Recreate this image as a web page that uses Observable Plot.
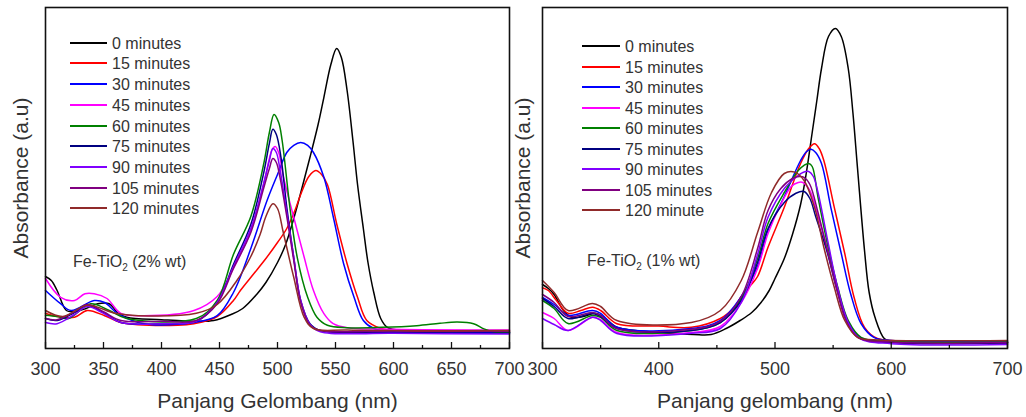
<!DOCTYPE html>
<html><head><meta charset="utf-8">
<script src="https://cdn.jsdelivr.net/npm/d3@7"></script>
<script src="https://cdn.jsdelivr.net/npm/@observablehq/plot@0.6"></script>
<style>
body{margin:0;background:#fff;font-family:"Liberation Sans",Arial,sans-serif;}
#wrap{position:relative;width:1026px;height:417px;overflow:hidden;background:#fff;}
.panel{position:absolute;top:0;}
.lg-line{position:absolute;height:2px;}
.lg-text{position:absolute;font-size:16px;line-height:16px;color:#333;white-space:nowrap;}
.note{position:absolute;font-size:16px;line-height:16px;color:#333;white-space:nowrap;}
.note sub{font-size:10px;vertical-align:-4px;line-height:0;}
</style></head><body>
<div id="wrap"></div>
<script>
// ---------- series labels & colours ----------
const timesLeft  = ["0 minutes","15 minutes","30 minutes","45 minutes","60 minutes","75 minutes","90 minutes","105 minutes","120 minutes"];
const timesRight = ["0 minutes","15 minutes","30 minutes","45 minutes","60 minutes","75 minutes","90 minutes","105 minutes","120 minute"];
const seriesColors = ["#000000","#ff0000","#0000ff","#ff00ff","#008000","#000080","#8000ff","#800080","#902a2a"];

// ---------- axis ticks ----------
const leftMajor = [300,350,400,450,500,550,600,650,700];
const leftMinor = [325,375,425,475,525,575,625,675];
const rightMajor = [300,400,500,600,700];
const rightMinor = [350,450,550,650];

// ---------- Fe-TiO2 (2% wt): [wavelength nm, absorbance a.u.] ----------
const L_0 = [[300,0.18],[305,0.17],[310,0.145],[318,0.095],[325,0.092],[335,0.10],[345,0.112],[355,0.112],[362,0.09],[370,0.078],[400,0.072],[430,0.068],[445,0.07],[460,0.085],[470,0.1],[482,0.135],[490,0.165],[500,0.215],[507,0.26],[514,0.325],[521,0.40],[528,0.478],[535,0.56],[540,0.628],[546,0.71],[551,0.75],[555,0.728],[560,0.645],[565,0.52],[569,0.41],[574,0.30],[578,0.215],[583,0.14],[589,0.075],[595,0.052],[610,0.045],[650,0.043],[700,0.04]];
const L_15 = [[300,0.088],[310,0.08],[325,0.078],[336,0.095],[351,0.082],[365,0.065],[414,0.058],[428,0.062],[448,0.08],[462,0.12],[468,0.145],[479,0.185],[490,0.225],[500,0.265],[508,0.30],[515,0.345],[520,0.385],[527,0.43],[533,0.445],[538,0.435],[543,0.41],[551,0.312],[560,0.212],[569,0.128],[577,0.07],[589,0.05],[600,0.045],[700,0.042]];
const L_30 = [[300,0.145],[313,0.112],[322,0.095],[342,0.12],[351,0.115],[362,0.088],[385,0.062],[428,0.065],[448,0.082],[462,0.14],[477,0.25],[491,0.37],[500,0.435],[508,0.49],[514,0.508],[520,0.515],[526,0.508],[531,0.49],[540,0.428],[548,0.33],[557,0.212],[566,0.128],[574,0.07],[583,0.05],[600,0.042],[700,0.04]];
const L_45 = [[300,0.175],[313,0.128],[325,0.12],[334,0.137],[342,0.137],[353,0.125],[365,0.088],[385,0.082],[428,0.095],[448,0.13],[462,0.2],[477,0.295],[488,0.41],[493,0.475],[495,0.495],[498,0.505],[501,0.49],[505,0.43],[514,0.328],[523,0.228],[531,0.145],[540,0.087],[548,0.062],[560,0.052],[600,0.048],[700,0.046]];
const L_60 = [[300,0.083],[310,0.08],[320,0.075],[339,0.112],[355,0.095],[370,0.075],[430,0.075],[448,0.12],[462,0.235],[477,0.33],[488,0.46],[493,0.54],[497,0.585],[501,0.565],[504,0.52],[511,0.345],[517,0.228],[526,0.128],[534,0.078],[543,0.058],[560,0.052],[590,0.053],[620,0.057],[640,0.063],[655,0.066],[669,0.062],[678,0.049],[687,0.041],[700,0.04]];
const L_75 = [[300,0.075],[310,0.07],[325,0.09],[336,0.108],[350,0.09],[365,0.065],[400,0.062],[430,0.068],[448,0.115],[462,0.21],[477,0.31],[488,0.438],[493,0.513],[496,0.548],[499,0.535],[503,0.478],[508,0.353],[514,0.228],[520,0.12],[528,0.062],[537,0.045],[600,0.04],[700,0.038]];
const L_90 = [[300,0.065],[310,0.062],[325,0.085],[336,0.105],[350,0.088],[365,0.065],[400,0.062],[430,0.068],[448,0.115],[462,0.205],[477,0.30],[488,0.412],[493,0.47],[496,0.5],[499,0.49],[502,0.45],[508,0.34],[514,0.228],[520,0.12],[528,0.06],[537,0.042],[600,0.038],[700,0.036]];
const L_105 = [[300,0.075],[310,0.072],[325,0.092],[336,0.11],[350,0.092],[365,0.07],[400,0.068],[430,0.07],[448,0.112],[462,0.2],[477,0.29],[488,0.40],[493,0.45],[496,0.475],[499,0.465],[502,0.43],[508,0.33],[514,0.22],[520,0.115],[528,0.058],[537,0.045],[600,0.044],[700,0.043]];
const L_120 = [[300,0.095],[315,0.08],[336,0.108],[360,0.088],[380,0.082],[430,0.088],[448,0.11],[465,0.17],[477,0.23],[485,0.285],[490,0.33],[496,0.362],[500,0.35],[505,0.29],[514,0.178],[523,0.078],[531,0.05],[560,0.046],[700,0.045]];

// ---------- Fe-TiO2 (1% wt) ----------
const R_0 = [[300,0.16],[305,0.15],[310,0.135],[318,0.095],[325,0.078],[335,0.08],[345,0.088],[352,0.08],[364,0.053],[380,0.045],[400,0.04],[430,0.035],[445,0.035],[458,0.05],[470,0.07],[480,0.09],[488,0.115],[495,0.145],[500,0.175],[508,0.225],[515,0.285],[522,0.36],[527,0.44],[532,0.54],[536,0.62],[540,0.70],[546,0.78],[552,0.80],[557,0.78],[563,0.70],[567,0.59],[571,0.45],[577,0.245],[581,0.14],[586,0.078],[594,0.025],[600,0.018],[700,0.015]];
const R_15 = [[300,0.152],[305,0.145],[312,0.12],[322,0.088],[333,0.095],[343,0.103],[350,0.095],[364,0.062],[400,0.056],[428,0.053],[453,0.075],[465,0.103],[471,0.13],[479,0.158],[485,0.18],[494,0.253],[508,0.353],[522,0.4625],[529,0.5],[534,0.512],[538,0.5],[542,0.47],[551,0.353],[560,0.2375],[568,0.128],[577,0.053],[588,0.025],[600,0.02],[700,0.018]];
const R_30 = [[300,0.128],[310,0.11],[322,0.083],[343,0.095],[350,0.088],[364,0.053],[428,0.05],[453,0.07],[471,0.13],[485,0.205],[494,0.295],[508,0.38],[522,0.47],[527,0.492],[531,0.498],[535,0.49],[540,0.4625],[548,0.353],[557,0.2375],[565,0.1375],[574,0.0625],[585,0.028],[600,0.02],[700,0.018]];
const R_45 = [[300,0.09],[310,0.075],[322,0.045],[343,0.078],[350,0.072],[364,0.04],[428,0.04],[453,0.055],[471,0.115],[485,0.2],[494,0.2875],[505,0.36],[514,0.405],[520,0.415],[524,0.415],[530,0.395],[537,0.33],[546,0.24],[554,0.15],[562,0.07],[572,0.028],[585,0.018],[600,0.015],[700,0.014]];
const R_60 = [[300,0.12],[310,0.1],[322,0.0625],[343,0.0825],[350,0.078],[364,0.045],[428,0.045],[453,0.065],[471,0.125],[485,0.225],[494,0.3125],[508,0.39],[520,0.445],[525,0.458],[529,0.4625],[532,0.455],[537,0.378],[545,0.2625],[554,0.153],[563,0.07],[574,0.028],[600,0.018],[700,0.016]];
const R_75 = [[300,0.125],[310,0.105],[322,0.075],[343,0.0875],[350,0.08],[364,0.05],[428,0.045],[453,0.065],[471,0.12],[485,0.215],[494,0.30],[508,0.365],[518,0.388],[525,0.3925],[530,0.375],[535,0.33],[545,0.24],[553,0.15],[562,0.07],[572,0.028],[600,0.015],[700,0.014]];
const R_90 = [[300,0.075],[310,0.06],[322,0.045],[343,0.078],[350,0.07],[364,0.0375],[428,0.038],[453,0.05],[471,0.115],[485,0.235],[494,0.328],[508,0.40],[518,0.428],[524,0.44],[529,0.4425],[533,0.43],[537,0.39],[546,0.26],[554,0.15],[563,0.065],[573,0.025],[600,0.012],[700,0.01]];
const R_105 = [[300,0.135],[310,0.115],[322,0.08],[343,0.09],[350,0.083],[364,0.05],[428,0.048],[453,0.068],[471,0.13],[485,0.25],[494,0.345],[505,0.40],[515,0.425],[521,0.43],[525,0.428],[530,0.41],[537,0.34],[545,0.245],[553,0.15],[561,0.07],[571,0.028],[600,0.016],[700,0.015]];
const R_120 = [[300,0.17],[310,0.14],[322,0.095],[343,0.1125],[350,0.105],[364,0.07],[428,0.065],[453,0.095],[471,0.17],[485,0.29],[497,0.39],[508,0.4375],[517,0.441],[525,0.42],[534,0.353],[542,0.253],[551,0.153],[560,0.07],[571,0.028],[585,0.022],[700,0.02]];

const leftSeries  = [L_0,L_15,L_30,L_45,L_60,L_75,L_90,L_105,L_120];
const rightSeries = [R_0,R_15,R_30,R_45,R_60,R_75,R_90,R_105,R_120];

const FONT = '"Liberation Sans", Arial, sans-serif';

function rowsOf(series, labels) {
  return series.flatMap((s, i) => s.map(([nm, a]) => ({nm, a, series: labels[i]})));
}

function panel({series, labels, major, minor, xLabel, marginLeft, marginRight, yLabelDx}) {
  const plotH = 417 - 7 - 69;
  return Plot.plot({
    width: 513, height: 417,
    marginLeft, marginRight, marginTop: 7, marginBottom: 69,
    x: {domain: [300, 700]},
    y: {domain: [0, 0.8525], axis: null},
    color: {domain: labels, range: seriesColors},
    style: {background: "transparent", overflow: "visible", fontFamily: FONT, color: "#333"},
    marks: [
      Plot.line(rowsOf(series, labels), {x: "nm", y: "a", z: "series", stroke: "series", strokeWidth: 1.5, curve: "catmull-rom"}),
      Plot.tickX(major, {x: d => d, insetTop: plotH - 6, stroke: "#111", strokeWidth: 1.3}),
      Plot.tickX(minor, {x: d => d, insetTop: plotH - 3, stroke: "#111", strokeWidth: 1.3}),
      Plot.frame({stroke: "#111", strokeWidth: 1.6}),
      Plot.axisX(major, {tickSize: 0, tickPadding: 14, fontSize: 18, label: null}),
      Plot.text([xLabel], {text: d => d, frameAnchor: "bottom", dy: 45, lineAnchor: "top", fontSize: 21, fill: "#333"}),
      Plot.text(["Absorbance (a.u)"], {text: d => d, frameAnchor: "left", textAnchor: "middle", rotate: -90, dx: yLabelDx, lineAnchor: "bottom", fontSize: 21, fill: "#333"})
    ]
  });
}

const wrap = document.getElementById("wrap");

const left = document.createElement("div");
left.className = "panel"; left.style.left = "0px";
left.appendChild(panel({series: leftSeries, labels: timesLeft, major: leftMajor, minor: leftMinor,
  xLabel: "Panjang Gelombang (nm)", marginLeft: 45, marginRight: 4, yLabelDx: -18}));
wrap.appendChild(left);

const right = document.createElement("div");
right.className = "panel"; right.style.left = "513px";
right.appendChild(panel({series: rightSeries, labels: timesRight, major: rightMajor, minor: rightMinor,
  xLabel: "Panjang gelombang (nm)", marginLeft: 29, marginRight: 19, yLabelDx: -13}));
wrap.appendChild(right);

// ---------- in-plot legends ----------
function legend(labels, lineX, lineW, textX, y0, step) {
  labels.forEach((lab, i) => {
    const y = y0 + i * step;
    const ln = document.createElement("div");
    ln.className = "lg-line";
    ln.style.left = lineX + "px"; ln.style.width = lineW + "px";
    ln.style.top = (y - 1) + "px"; ln.style.background = seriesColors[i];
    wrap.appendChild(ln);
    const tx = document.createElement("div");
    tx.className = "lg-text";
    tx.style.left = textX + "px"; tx.style.top = (y - 7) + "px";
    tx.textContent = lab;
    wrap.appendChild(tx);
  });
}
legend(timesLeft, 70, 37, 112, 42.7, 20.7);
legend(timesRight, 582, 38, 625, 46, 20.5);

function note(html, x, baseline) {
  const d = document.createElement("div");
  d.className = "note";
  d.style.left = x + "px"; d.style.top = (baseline - 13.5) + "px";
  d.innerHTML = html;
  wrap.appendChild(d);
}
note("Fe-TiO<sub>2</sub> (2% wt)", 73, 267);
note("Fe-TiO<sub>2</sub> (1% wt)", 587, 266);
</script>
</body></html>
